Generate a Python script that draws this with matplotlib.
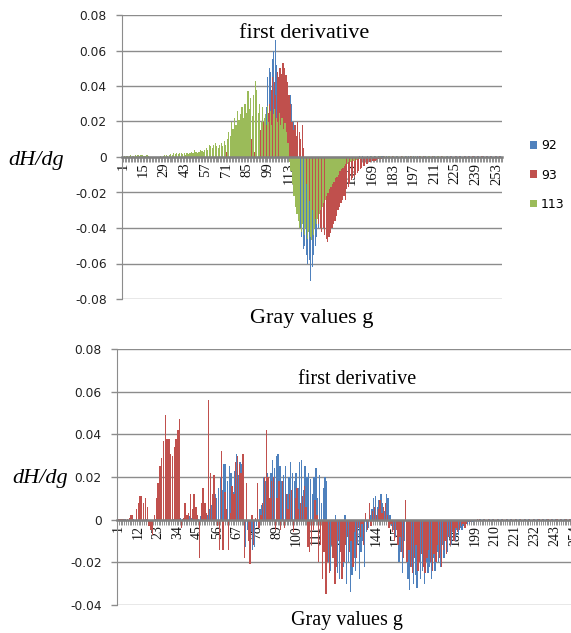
import numpy as np
import matplotlib
matplotlib.use("Agg")
import matplotlib.pyplot as plt

# gray values 1..256
gray = np.arange(1, 257)

# ---- top chart: first derivative, series 92 / 93 / 113 (values in 1/1000) ----
top_92 = ([0] * 96 +
          [18, 28, 45, 50, 48, 55, 60, 66, 52, 44, 47, 40, 42, 38, 36, 40, 34, 35, 30, 20, 5, -2] +
          [-10, -25, -40, -45, -52, -50, -55, -60, -58, -70, -62, -55, -50, -45, -40, -30, -25, -20,
           -15, -12, -10, -8] +
          [-7, -6, -5, -4, -4, -3, -3, -2, -2, -1.5, -1.5, -1, -1, -1, -0.5, -0.5, -0.5, 0, 0, 0] +
          [0.5, 0, 0.5, 0, 0, 0.5, 0, 0.5, 0, 0, 0.5, 0, 0, 0.5, 0, 0.5, 0, 0, 0.5, 0,
           0.5, 0, 0, 0.5, 0, 0.5, 0, 0, 0.5, 0, 0, 0.5, 0, 0.5, 0, 0, 0.5, 0, 0, 0.5,
           0, 0.5, 0, 0, 0.5, 0, 0, 0.5, 0, 0, 0.5, 0, 0, 0.5, 0, 0, 0.5, 0, 0, 0.5,
           0, 0, 0.5, 0, 0, 0.5, 0, 0, 0.5, 0, 0, 0.5, 0, 0, 0.5, 0, 0, 0.5, 0, 0,
           0.5, 0, 0, 0.5, 0, 0, 0.5, 0, 0, 0.5, 0, 0, 0.5, 0, 0, 0.5])
top_93 = ([0] * 70 + [3, 0, 0, 2, 0, 0, 3, 0, 0, 2] +
          [4, 0, 1, 0, 8, 0, 2, 10, 0, 3, 12, 0, 5, 15, 0, 20, 8, 18, 25] +
          [30, 38, 45, 42, 35, 48, 45, 50, 47, 53, 50, 46, 42, 35, 30, 20, 15, 18, 12, 20, 14, 10, 18] +
          [5, -5, -15] +
          [-20, -25, -28, -30, -32, -35, -34, -38, -40, -42, -40, -44, -46, -48, -45, -43, -40, -38,
           -36, -33] +
          [-30, -28, -26, -24, -22, -24, -18, -17, -15, -13, -12, -11, -10, -9, -8, -7, -6, -5, -5, -4,
           -4, -3, -3, -2, -2, -2, -1.5, -1, -1, -1] +
          [0, 0.5, 0, 0, 0.5, 0, 0, 0.5, 0, 0, 0.5, 0, 0, 0.5, 0, 0, 0.5, 0, 0, 0.5,
           0, 0, 0.5, 0, 0, 0.5, 0, 0, 0.5, 0, 0, 0.5, 0, 0, 0.5, 0, 0, 0.5, 0, 0,
           0.5, 0, 0, 0.5, 0, 0, 0.5, 0, 0, 0.5, 0, 0, 0.5, 0, 0, 0.5, 0, 0, 0.5, 0,
           0, 0.5, 0, 0, 0.5, 0, 0, 0.5, 0, 0, 0.5, 0, 0, 0.5, 0, 0, 0.5, 0, 0, 0.5, 0])
top_113 = ([0, 0.5, 0.5] +
           [0.5, 0.5, 1, 0.5, 0.5, 1, 0.5, 1, 0.5, 1, 1, 0.5, 0.5, 1, 0.5, 0] +
           [0, 0, 0, 0, 0, 0, 0.5, 0, 0.5] +
           [1, 1, 0.5, 1, 1.5, 1, 2, 1.5, 2, 1.5, 2, 2, 1.5, 2, 1, 2, 1.5] +
           [2, 3, 2.5, 4, 3, 2, 3, 4, 3.5, 3, 4] +
           [5, 4, 7, 6, 5, 7, 8, 6, 5, 7, 8, 6, 9, 7] +
           [10, 14, 12, 20, 16, 22, 18, 26, 21, 24] +
           [28, 22, 30, 25, 37, 27, 33, 23, 35, 43] +
           [38, 25, 30, 20, 28, 22, 24, 29, 20, 26] +
           [18, 24, 27, 22, 20, 25, 18, 22, 16, 19, 14, 8] +
           [-3, -8, -15, -22, -28, -32, -36, -40] +
           [-42, -38, -44, -40, -46, -42, -45, -47, -44, -40, -38, -35, -32, -30, -28] +
           [-26, -24, -22, -20, -18, -17, -15, -14, -12, -11, -10, -8, -7, -6, -5] +
           [-4, -4, -3, -3, -2, -2, -2, -1.5, -1, -1, -1, -0.5, -0.5, -0.5, 0] +
           [0, 0, 0.5, 0, 0, 0.5, 0, 0, 0.5, 0, 0, 0.5, 0, 0, 0.5, 0, 0, 0.5, 0, 0,
            0.5, 0, 0, 0.5, 0, 0, 0.5, 0, 0, 0.5, 0, 0, 0.5, 0, 0, 0.5, 0, 0, 0.5, 0,
            0, 0.5, 0, 0, 0.5, 0, 0, 0.5, 0, 0, 0.5, 0, 0, 0.5, 0, 0, 0, 0, 0, 0,
            0, 0, 0, 0, 0, 0, 0, 0, 0, 0, 0, 0, 0, 0, 0, 0, 0, 0, 0, 0,
            0, 0, 0, 0, 0, 0, 0, 0, 0, 0, 0])

# ---- bottom chart: first derivative, two series (values in 1/1000) ----
bot_blue = ([0, 0, 0, 0, 0.3, 0, 0, 0, 0, 0.3] +
            [0, 0, 0.3, 0, 0, 0, 0.5, 0, 0, 0] +
            [0, 0.3, 0, 0, 0.3, 0, 0, 0.3, 0, 0.5, 0, 0.3, 0] +
            [1, 0.5, 1, 0.5, 1, 0.5, 1, 1.5, 1, 2, 1, 2, 0.5, 1.5, 2, 3] +
            [3, 2, 5, 7, 6, 12, 10, 15, 20, 14, 26] +
            [26, 18, 25, 22, 13, 23, 31, 21, 27, 26, 6] +
            [-13, -5, -3, -6, -14, -13, -3, -2, 5, 7] +
            [20, 18, 22, 8, 22, 28, 24, 30, 31, 25, 18, 21, 25, 12] +
            [20, 27, 22, 18, 22, 15, 27, 28, 14, 25, 20, 22, 19, 12, 20] +
            [24, 10, 21, 8, 15, 20, 18, -20] +
            [-24, -8, -18, 2, -25, -28, -15, -22, 2, -30, -20, -34, -26, -18, -24, -12, -28, -15,
             -10, -22, -6, -4] +
            [2, 5, 10, 11, 6, 9, 12, 8, 4, 12, 10, 2, -3, -5] +
            [-8, -12, -20, -15, -25, -10, -18, -28, -33, -22, -30, -26, -32, -18, -28, -24, -30, -20,
             -25, -22, -28] +
            [-18, -24, -15, -20, -22, -12, -18, -10, -15, -8, -12, -6, -10, -5, -7, -4, -5, -3, -3,
             -2, -2, -1, -1, -0.5, -0.5] +
            [0, 0.5, 0, 0.5, 0, 0, 0.5, 0, 0.5, 0, 0, 0.5, 0, 0.5, 0, 0, 0.5, 0, 0.5, 0,
             0, 0.5, 0, 0.5, 0, 0, 0.5, 0, 0.5, 0, 0, 0.5, 0, 0.5, 0, 0, 0.5, 0, 0.5, 0,
             0, 0.5, 0, 0.5, 0, 0, 0.5, 0, 0.5, 0, 0, 0.5, 0, 0.5, 0, 0])
bot_red = ([0.3, 0.5, 0.5, 0.3, 0.5, 0.5, 1, 2, 2, 0] +
           [5, 8, 11, 11, 8, 10, 6, -3, -5, -7, 2] +
           [10, 17, 25, 29, 37, 49, 38, 38, 31, 30, 34, 38, 42, 47, -4] +
           [1, 8, 2, 3, 12, 5, 12, 6, 2, -18, 8, 15, 8, 3] +
           [56, 22, 12, 21, 10, -3, -14, 32, -14, 13] +
           [5, -14, 3, 16, 12, 27, 30, 26, 22, 31, -18, 17, -10, -21, 2, -12] +
           [1, 17, -4, 2, 8, 20, 42, 20, 10, 18, 20, -5, 10, 18] +
           [-5, 18, -4, 12, 5, 12, 14, -6, 10, 15, 5, 8, 11, 16, 6, -13, -15, -12, -5, 9] +
           [2, -20, -12, -28, -15, -35, -20, -25, -12, -18, -30, -22, -10, -15, -28] +
           [-20, -12, -8, -15, -10, -22, -6, -18, -4, -8, -2, -12, 3, -5, 8, -3] +
           [4, 6, 2, 5, 9, 3, 6, 8, 2, -4, -2, -6, -10, -5] +
           [-12, -8, -15, -18, 9, -20, -14, -22, -25, -18, -12, -24, -20, -16, -22, -25, -18, -14,
            -20, -24] +
           [-16, -20, -12, -18, -22, -14, -10, -16, -8, -12, -6, -10, -4, -6, -5, -3, -2, -4, -2, -1,
            -1, -0.5, -0.5, 0, 0.3] +
           [0.5, 0, 0, 0.5, 0, 0.5, 0, 0, 0.5, 0, 0.5, 0, 0, 0.5, 0, 0.5, 0, 0, 0.5, 0,
            0.5, 0, 0, 0.5, 0, 0.5, 0, 0, 0.5, 0, 0.5, 0, 0, 0.5, 0, 0.5, 0, 0, 0.5, 0,
            0.5, 0, 0, 0.5, 0, 0.5, 0, 0, 0.5, 0, 0.5, 0, 0, 0.5, 0, 0])

top_series = [("92", top_92), ("93", top_93), ("113", top_113)]
bot_series = [("92", bot_blue), ("93", bot_red)]
colors = ["#4F81BD", "#C0504D", "#9BBB59"]

SERIF = "Liberation Serif"
SANS = "DejaVu Sans"
GRID = "#8C8C8C"

fig = plt.figure(figsize=(5.71, 6.33), dpi=100)


def style_axes(ax, ymin, ymax, step, label_every, xfs):
    ax.set_xlim(0.5, 256.5)
    ax.set_ylim(ymin, ymax)
    ax.set_yticks(np.arange(ymin, ymax + step / 2, step))
    ax.set_yticklabels([("0" if abs(v) < 1e-9 else f"{v:.2f}") for v in ax.get_yticks()],
                       family=SANS, fontsize=8.8)
    ax.yaxis.grid(True, color=GRID, linewidth=1.0)
    ax.set_axisbelow(True)
    for s in ["top", "right"]:
        ax.spines[s].set_visible(False)
    ax.spines["left"].set_color(GRID)
    ax.spines["bottom"].set_position(("data", 0))
    ax.spines["bottom"].set_color("#808080")
    ax.spines["bottom"].set_linewidth(1.8)
    ax.spines["bottom"].set_zorder(4)
    ax.tick_params(axis="y", length=4, width=1.0, color=GRID, pad=7, labelcolor="#222222")
    major = np.arange(1, 257, label_every)
    ax.set_xticks(major)
    ax.set_xticklabels([str(v) for v in major], rotation=90, family=SERIF, fontsize=xfs)
    ax.set_xticks(np.arange(0.5, 257, 1), minor=True)
    ax.tick_params(axis="x", which="major", length=0, pad=4, colors="#111111")
    ax.tick_params(axis="x", which="minor", length=3.5, width=0.7, color="#909090")


# top panel
ax1 = fig.add_axes([122 / 571, 1 - 299 / 633, 380 / 571, 284 / 633])
w = 1 / 3
for i, (name, vals) in enumerate(top_series):
    ax1.bar(gray + (i - 1) * w, np.array(vals) / 1000.0, width=0.8, color=colors[i],
            linewidth=0, label=name, zorder=2)
style_axes(ax1, -0.08, 0.08, 0.02, 14, 10.5)
fig.text(304 / 571, 1 - 33 / 633, "first derivative", ha="center", va="center",
         family=SERIF, fontsize=16)
fig.text(312 / 571, 1 - 318 / 633, "Gray values g", ha="center", va="center", family=SERIF,
         fontsize=16)
fig.text(36 / 571, 1 - 160 / 633, "dH/dg", ha="center", va="center", family=SERIF,
         style="italic", fontsize=16)
leg = ax1.legend(loc="upper left", bbox_to_anchor=(1.045, 0.602), frameon=False,
                 prop={"family": SANS, "size": 9}, handlelength=0.55, handleheight=0.55,
                 handletextpad=0.3, labelspacing=1.3)

# bottom panel
ax2 = fig.add_axes([117 / 571, 1 - 605 / 633, 462 / 571, 256 / 633])
w2 = 0.5
for i, (name, vals) in enumerate(bot_series):
    ax2.bar(gray + (i - 0.5) * w2, np.array(vals) / 1000.0, width=0.75, color=colors[i],
            linewidth=0, zorder=2)
style_axes(ax2, -0.04, 0.08, 0.02, 11, 10)
fig.text(357 / 571, 1 - 379 / 633, "first derivative", ha="center", va="center",
         family=SERIF, fontsize=14.5)
fig.text(347 / 571, 1 - 621 / 633, "Gray values g", ha="center", va="center", family=SERIF,
         fontsize=14.5)
fig.text(40 / 571, 1 - 478 / 633, "dH/dg", ha="center", va="center", family=SERIF,
         style="italic", fontsize=16)

fig.savefig("out.png", dpi=100)
